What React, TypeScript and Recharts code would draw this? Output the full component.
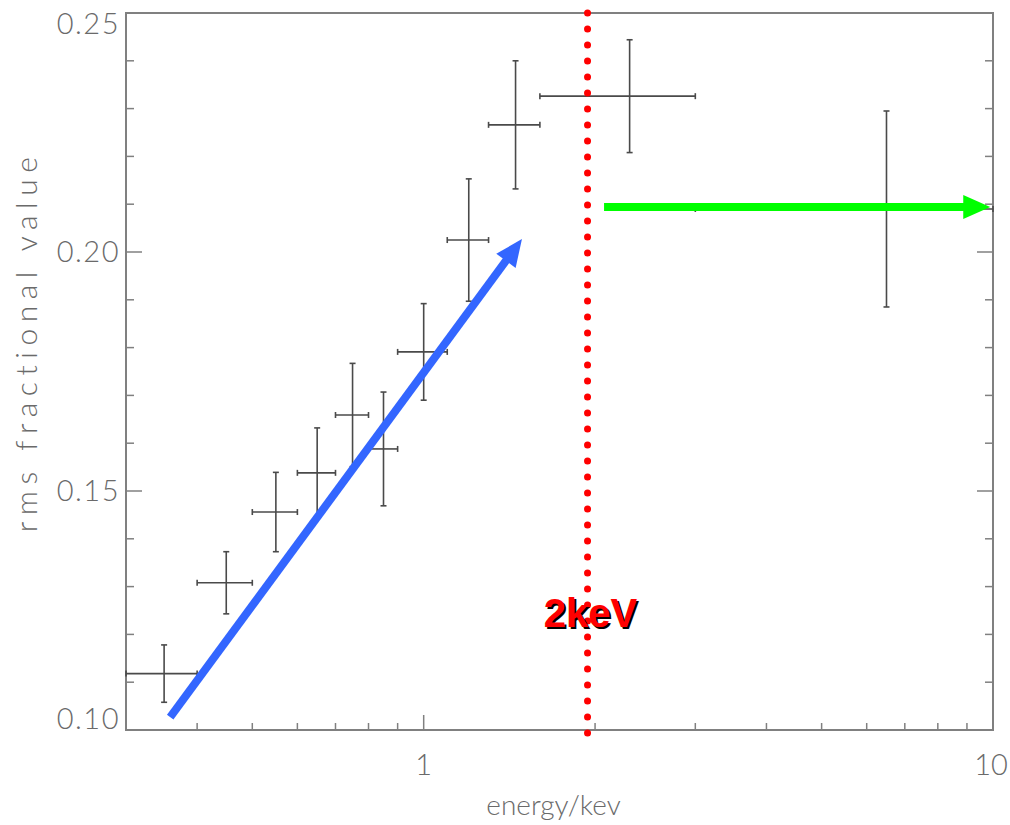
import {
  ComposedChart,
  ErrorBar,
  ReferenceArea,
  ReferenceDot,
  ReferenceLine,
  Scatter,
  XAxis,
  YAxis
} from 'recharts';

// bin centres (keV) and half widths
const energy = [0.35, 0.45, 0.55, 0.65, 0.75, 0.85, 1.0, 1.2, 1.45, 2.3, 6.5];
const energyHalfWidth = [0.05, 0.05, 0.05, 0.05, 0.05, 0.05, 0.1, 0.1, 0.15, 0.7, 3.5];
const rms = [0.1118, 0.1308, 0.1456, 0.1538, 0.1659, 0.1588, 0.1791, 0.2025, 0.2266, 0.2326, 0.209];
const rmsErr = [0.006, 0.0065, 0.0083, 0.0094, 0.0108, 0.0119, 0.0101, 0.0128, 0.0134, 0.0118, 0.0205];

const xTicks = [0.4, 0.5, 0.6, 0.7, 0.8, 0.9, 1, 2, 3, 4, 5, 6, 7, 8, 9, 10];
const xMajor = [1, 10];
const yTicks = [0.1, 0.11, 0.12, 0.13, 0.14, 0.15, 0.16, 0.17, 0.18, 0.19, 0.2, 0.21, 0.22, 0.23, 0.24, 0.25];
const yMajor = [0.1, 0.15, 0.2, 0.25];

// annotations
const blueArrow = [{ x: 0.3587, y: 0.1027 }, { x: 1.488, y: 0.2027 }];
const greenArrow = [{ x: 2.074, y: 0.2094 }, { x: 9.89, y: 0.2094 }];
const cutEnergy = 1.94;
const cutLine = [{ x: cutEnergy, y: 0.25 }, { x: cutEnergy, y: 0.09875 }];
const cutLabel = { x: cutEnergy, y: 0.1215, text: '2keV' };

const data = energy.map((e, i) => ({
  x: e,
  y: rms[i],
  ex: [energyHalfWidth[i], energyHalfWidth[i]],
  ey: [rmsErr[i], rmsErr[i]]
}));

const AXIS = '#808080';
const TEXT = '#6a6a6a';
const FONT = 'Lato, "DejaVu Sans", sans-serif';

const isIn = (list: number[], v: number) => list.some((m) => Math.abs(m - v) < 1e-9);

const makeXTick = (side: 'bottom' | 'top') => (props: any) => {
  const { x, y, payload } = props;
  const major = isIn(xMajor, payload.value);
  const len = major ? 15 : 7;
  const dir = side === 'bottom' ? -1 : 1;
  return (
    <g>
      <line x1={x} y1={y} x2={x} y2={y + dir * len} stroke={AXIS} strokeWidth={1.5} />
      {side === 'bottom' && major && (
        <text x={payload.value === 10 ? x - 2 : x} y={y + 45} textAnchor="middle" fill={TEXT} fontSize={29} fontFamily={FONT} fontWeight={300}>
          {payload.value}
        </text>
      )}
    </g>
  );
};

const makeYTick = (side: 'left' | 'right') => (props: any) => {
  const { x, y, payload } = props;
  const v = payload.value;
  const major = isIn(yMajor, v);
  const len = major ? 16 : 8;
  const dir = side === 'left' ? 1 : -1;
  let dy = 10;
  if (Math.abs(v - 0.25) < 1e-9) dy = 21;
  if (Math.abs(v - 0.1) < 1e-9) dy = -1;
  return (
    <g>
      <line x1={x} y1={y} x2={x + dir * len} y2={y} stroke={AXIS} strokeWidth={1.5} />
      {side === 'left' && major && (
        <text x={x - 6} y={y + dy} textAnchor="end" fill={TEXT} fontSize={29} fontFamily={FONT} fontWeight={300} letterSpacing={1.5}>
          {v.toFixed(2)}
        </text>
      )}
    </g>
  );
};

const arrowShape = (color: string, width: number, headLen: number, headHalf: number) => (props: any) => {
  const { x1, y1, x2, y2 } = props;
  const dx = x2 - x1;
  const dy = y2 - y1;
  const d = Math.sqrt(dx * dx + dy * dy) || 1;
  const ux = dx / d;
  const uy = dy / d;
  const bx = x2 - ux * headLen;
  const by = y2 - uy * headLen;
  const px = -uy;
  const py = ux;
  return (
    <g>
      <line x1={x1} y1={y1} x2={bx + ux * 2} y2={by + uy * 2} stroke={color} strokeWidth={width} />
      <polygon
        points={`${x2},${y2} ${bx + px * headHalf},${by + py * headHalf} ${bx - px * headHalf},${by - py * headHalf}`}
        fill={color}
      />
    </g>
  );
};

const keVShape = (props: any) => {
  const { cx, cy } = props;
  const common = {
    textAnchor: 'middle' as const,
    fontSize: 40,
    fontWeight: 700,
    fontFamily: '"Liberation Sans", Arial, sans-serif'
  };
  return (
    <g>
      <text x={cx + 5} y={cy + 2} fill="#000" {...common}>{cutLabel.text}</text>
      <text x={cx + 3} y={cy} fill="#ff0000" {...common}>{cutLabel.text}</text>
    </g>
  );
};

const XLabel = (props: any) => {
  const { x, y, width } = props.viewBox;
  return (
    <text x={x + width / 2 - 6} y={y + 85} textAnchor="middle" fill={TEXT} fontSize={28} fontFamily={FONT} fontWeight={300}>
      energy/kev
    </text>
  );
};

const YLabel = (props: any) => {
  const { y, height } = props.viewBox;
  const cy = y + height / 2 - 30;
  return (
    <text
      x={30}
      y={cy}
      transform={`rotate(-90, 30, ${cy})`}
      textAnchor="middle"
      dominantBaseline="middle"
      fill={TEXT}
      fontSize={30}
      fontFamily={FONT}
      fontWeight={300}
      letterSpacing={6.5}
    >
      rms fractional value
    </text>
  );
};

export default function App() {
  return (
    <div style={{ position: 'absolute', left: 0, top: 0, width: 1010, height: 825, background: '#fff' }}>
      <ComposedChart width={1010} height={825} margin={{ top: 12, right: 16, left: 0, bottom: 0 }}>
        <XAxis
          dataKey="x"
          type="number"
          scale="log"
          domain={[0.3, 10]}
          allowDataOverflow
          ticks={xTicks}
          interval={0}
          height={95}
          tickSize={0}
          tickMargin={0}
          tickLine={false}
          axisLine={false}
          tick={makeXTick('bottom')}
          label={<XLabel />}
        />
        <XAxis
          xAxisId="top"
          orientation="top"
          type="number"
          scale="log"
          domain={[0.3, 10]}
          allowDataOverflow
          ticks={xTicks}
          interval={0}
          height={1}
          tickSize={0}
          tickMargin={0}
          tickLine={false}
          axisLine={false}
          tick={makeXTick('top')}
        />
        <YAxis
          dataKey="y"
          type="number"
          domain={[0.1, 0.25]}
          allowDataOverflow
          ticks={yTicks}
          interval={0}
          width={126}
          tickSize={0}
          tickMargin={0}
          tickLine={false}
          axisLine={false}
          tick={makeYTick('left')}
          label={<YLabel />}
        />
        <YAxis
          yAxisId="right"
          orientation="right"
          type="number"
          domain={[0.1, 0.25]}
          allowDataOverflow
          ticks={yTicks}
          interval={0}
          width={1}
          tickSize={0}
          tickMargin={0}
          tickLine={false}
          axisLine={false}
          tick={makeYTick('right')}
        />
        <ReferenceArea x1={0.3} x2={10} y1={0.1} y2={0.25} fill="none" stroke={AXIS} strokeWidth={2} ifOverflow="visible" />
        <Scatter data={data} dataKey="y" isAnimationActive={false} shape={() => <g />}>
          <ErrorBar dataKey="ex" direction="x" width={3} stroke="#4a4a4a" strokeWidth={1.6} isAnimationActive={false} />
          <ErrorBar dataKey="ey" direction="y" width={3} stroke="#4a4a4a" strokeWidth={1.6} isAnimationActive={false} />
        </Scatter>
        <ReferenceLine
          segment={cutLine}
          ifOverflow="visible"
          stroke="#ff0000"
          strokeWidth={7}
          strokeDasharray="0 16"
          strokeLinecap="round"
        />
        <ReferenceLine segment={blueArrow} ifOverflow="visible" shape={arrowShape('#3366ff', 8, 27, 12)} />
        <ReferenceLine segment={greenArrow} ifOverflow="visible" shape={arrowShape('#00ff00', 8, 27, 12)} />
        <ReferenceDot x={cutLabel.x} y={cutLabel.y} ifOverflow="visible" shape={keVShape} />
      </ComposedChart>
    </div>
  );
}
